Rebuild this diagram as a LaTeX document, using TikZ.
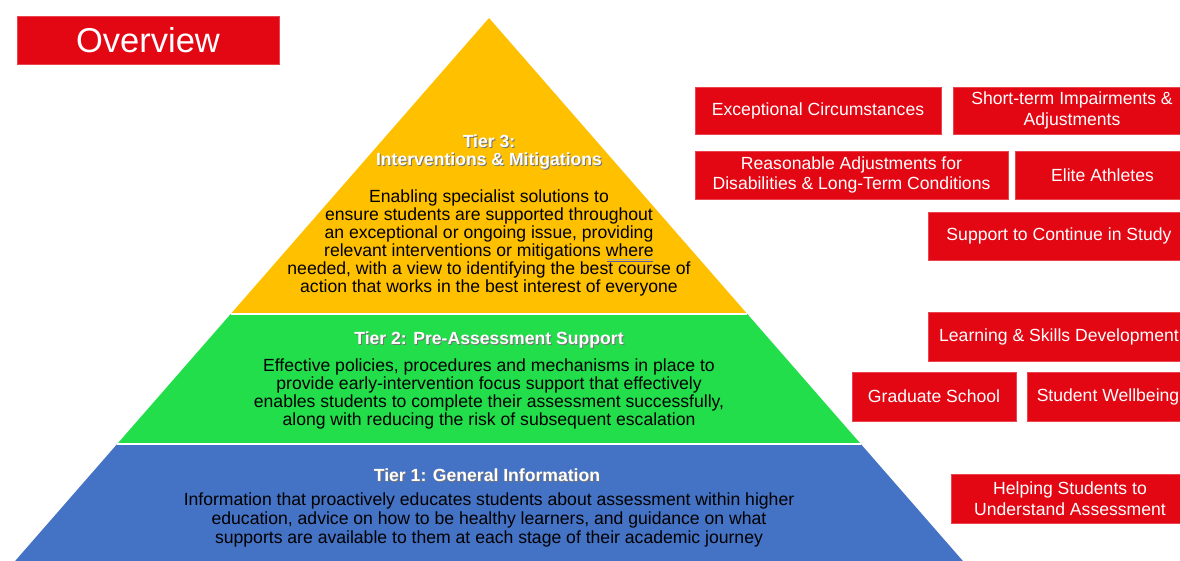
\documentclass[tikz,border=0pt]{standalone}
\usepackage{fontspec}
\setmainfont{Liberation Sans}
\usepackage{xcolor}
\usepackage{tikz}
\usetikzlibrary{positioning}
\definecolor{ovred}{RGB}{227,6,19}
\definecolor{tieryellow}{RGB}{255,192,0}
\definecolor{tiergreen}{RGB}{35,222,75}
\definecolor{tierblue}{RGB}{68,114,196}
\newcommand{\shadowtxt}[1]{\leavevmode\rlap{\kern1pt\raisebox{-1pt}{\color{black!55}#1}}#1}

\begin{document}
\begin{tikzpicture}[x=1pt, y=-1pt,
    redbox/.style={rectangle, fill=ovred, draw=ovred!75!white, line width=0.7pt, text=white, align=center, inner sep=0pt, minimum height=48pt, font=\fontsize{17.6}{20.5}\selectfont},
    tiertitle/.style={text=white, align=center, inner sep=0pt, font=\fontsize{17.6}{18}\selectfont\bfseries},
    tierbody/.style={text=black, align=center, inner sep=0pt, font=\fontsize{17.6}{18}\selectfont}
]
    \useasboundingbox (0,0) rectangle (1180,561);

    \coordinate (apex) at (489,18);
    \coordinate (l3) at (230.7,314);
    \coordinate (r3) at (747.3,314);
    \coordinate (l2) at (117.2,444);
    \coordinate (r2) at (860.8,444);
    \coordinate (l1) at (15.1,561);
    \coordinate (r1) at (962.9,561);

    \fill[tieryellow] (apex) -- (r3) -- (l3) -- cycle;
    \fill[tiergreen] (l3) -- (r3) -- (r2) -- (l2) -- cycle;
    \fill[tierblue] (l2) -- (r2) -- (r1) -- (l1) -- cycle;
    \draw[white, line width=1.5pt] (l3) -- (r3);
    \draw[white, line width=1.5pt] (l2) -- (r2);

    \node[tiertitle] (t3title) at (489,152) {\shadowtxt{Tier 3:}\\\shadowtxt{Interventions \& Mitigations}};
    \node[tierbody] (t3body) at (489,243) {Enabling specialist solutions to\\ensure students are supported throughout\\an exceptional or ongoing issue, providing\\relevant interventions or mitigations where\\needed, with a view to identifying the best course of\\action that works in the best interest of everyone};
    \draw[gray!60, line width=1pt] (607,259.5) -- (653,259.5);
    \draw[gray!70!blue, line width=1pt] (607,262) -- (653,262);

    \node[tiertitle] (t2title) at (489,340) {\shadowtxt{Tier 2: Pre-Assessment Support}};
    \node[tierbody] (t2body) at (489,393.5) {Effective policies, procedures and mechanisms in place to\\provide early-intervention focus support that effectively\\enables students to complete their assessment successfully,\\along with reducing the risk of subsequent escalation};

    \node[tiertitle] (t1title) at (487,476) {\shadowtxt{Tier 1: General Information}};
    \node[tierbody, font=\fontsize{17.6}{19}\selectfont] (t1body) at (489,520) {Information that proactively educates students about assessment within higher\\education, advice on how to be healthy learners, and guidance on what\\supports are available to them at each stage of their academic journey};

    \node[redbox, minimum width=262pt, font=\fontsize{34.5}{36}\selectfont] (overview) at (148,40) {Overview};

    \node[redbox, minimum width=246pt, minimum height=47pt] (exceptional) at (818,110.5) {Exceptional Circumstances};
    \node[redbox, minimum width=238pt, minimum height=47pt] (shortterm) at (1072,110.5) {Short-term Impairments \&\\Adjustments};
    \node[redbox, minimum width=313pt] (reasonable) at (851.5,175) {Reasonable Adjustments for\\Disabilities \& Long-Term Conditions};
    \node[redbox, minimum width=175pt] (elite) at (1102.5,175) {Elite Athletes};
    \node[redbox, minimum width=262pt] (continue) at (1059,236) {Support to Continue in Study};

    \node[redbox, minimum width=262pt, minimum height=49pt] (learning) at (1059,336.5) {Learning \& Skills Development};
    \node[redbox, minimum width=164pt, minimum height=49pt] (graduate) at (934,396.5) {Graduate School};
    \node[redbox, minimum width=162pt, minimum height=49pt] (wellbeing) at (1108,396.5) {Student Wellbeing};

    \node[redbox, minimum width=238pt, minimum height=49pt] (helping) at (1070,498.5) {Helping Students to\\Understand Assessment};
\end{tikzpicture}
\end{document}
